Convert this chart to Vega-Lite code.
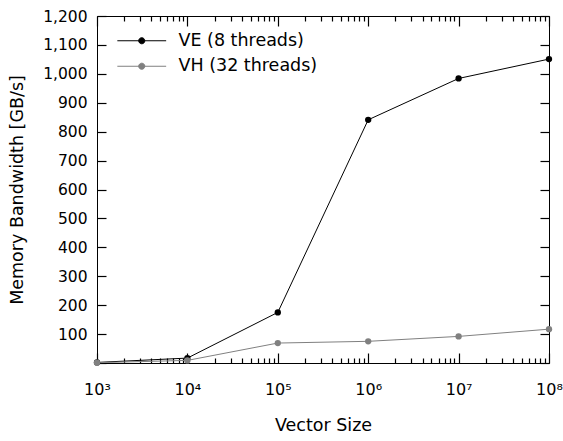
{
  "$schema": "https://vega.github.io/schema/vega-lite/v6.json",
  "width": 452,
  "height": 347,
  "autosize": "none",
  "padding": {"left": 97, "top": 16, "right": 14, "bottom": 78},
  "background": "white",
  "config": {
    "font": "DejaVu Sans",
    "view": {"stroke": "black", "strokeWidth": 1},
    "axis": {"grid": false, "domain": false, "tickWidth": 1.2, "zindex": 1, "labelColor": "black", "titleColor": "black", "titleFontWeight": "normal", "labelFont": "DejaVu Sans", "titleFont": "DejaVu Sans"}
  },
  "data": {
    "values": [
      {"size": 1000, "bw": 2, "series": "VE (8 threads)"},
      {"size": 10000, "bw": 17, "series": "VE (8 threads)"},
      {"size": 100000, "bw": 175, "series": "VE (8 threads)"},
      {"size": 1000000, "bw": 841, "series": "VE (8 threads)"},
      {"size": 10000000, "bw": 984, "series": "VE (8 threads)"},
      {"size": 100000000, "bw": 1051, "series": "VE (8 threads)"},
      {"size": 1000, "bw": 1, "series": "VH (32 threads)"},
      {"size": 10000, "bw": 9, "series": "VH (32 threads)"},
      {"size": 100000, "bw": 69, "series": "VH (32 threads)"},
      {"size": 1000000, "bw": 75, "series": "VH (32 threads)"},
      {"size": 10000000, "bw": 92, "series": "VH (32 threads)"},
      {"size": 100000000, "bw": 117, "series": "VH (32 threads)"}
    ]
  },
  "encoding": {
    "color": {
      "field": "series",
      "type": "nominal",
      "scale": {"domain": ["VE (8 threads)", "VH (32 threads)"], "range": ["#000000", "#808080"]},
      "legend": {
        "title": null,
        "orient": "none",
        "legendX": 36,
        "legendY": 16,
        "padding": 0,
        "symbolType": "M-4,0H4M-0.5,0A0.5,0.5,0,1,0,0.5,0A0.5,0.5,0,1,0,-0.5,0Z",
        "symbolSize": 149,
        "symbolStrokeWidth": 1,
        "labelOffset": 28,
        "labelFontSize": 17.5,
        "labelFont": "DejaVu Sans",
        "labelColor": "black",
        "rowPadding": 6.5,
        "labelLimit": 400,
        "encode": {"symbols": {"update": {"fill": {"scale": "color", "field": "value"}, "stroke": {"scale": "color", "field": "value"}, "opacity": {"value": 1}}}}
      }
    }
  },
  "layer": [
    {
      "mark": {"type": "line", "strokeWidth": 1},
      "encoding": {
        "x": {
          "field": "size", "type": "quantitative",
          "scale": {"type": "log", "domain": [1000, 100000000], "nice": false},
          "axis": {
            "orient": "bottom",
            "title": "Vector Size",
            "titleFontSize": 17.5,
            "titlePadding": 19,
            "labelFontSize": 16,
            "labelPadding": 18,
            "ticks": false,
            "values": [1000,10000,100000,1000000,10000000,100000000],
            "labelExpr": "'10' + ['⁰','¹','²','³','⁴','⁵','⁶','⁷','⁸'][round(log(datum.value)/LN10)]",
            "labelOverlap": false,
            "labelFlush": false
          }
        },
        "y": {
          "field": "bw", "type": "quantitative",
          "scale": {"domain": [0, 1200], "nice": false},
          "axis": {
            "orient": "left",
            "title": "Memory Bandwidth [GB/s]",
            "titleFontSize": 17.5,
            "titlePadding": 16,
            "labelFontSize": 15.5,
            "labelPadding": 10,
            "ticks": false,
            "values": [100,200,300,400,500,600,700,800,900,1000,1100,1200],
            "labelExpr": "format(datum.value, ',d')",
            "labelOverlap": false,
            "labelFlush": false
          }
        }
      }
    },
    {
      "mark": {"type": "point", "filled": true, "size": 40, "opacity": 1},
      "encoding": {
        "x": {
          "field": "size", "type": "quantitative",
          "scale": {"type": "log", "domain": [1000, 100000000], "nice": false},
          "axis": {"orient": "bottom", "title": null, "labels": false, "ticks": true, "tickColor": "#000000", "tickOpacity": 1, "offset": -10, "tickSize": 10, "values": [1000,10000,100000,1000000,10000000,100000000]}
        },
        "y": {
          "field": "bw", "type": "quantitative",
          "scale": {"domain": [0, 1200], "nice": false},
          "axis": {"orient": "left", "title": null, "labels": false, "ticks": true, "tickColor": "#000000", "tickOpacity": 1, "offset": -9, "tickSize": 9, "values": [0,100,200,300,400,500,600,700,800,900,1000,1100,1200]}
        }
      }
    },
    {
      "mark": {"type": "point", "filled": true, "size": 40, "opacity": 0},
      "encoding": {
        "x": {
          "field": "size", "type": "quantitative",
          "scale": {"type": "log", "domain": [1000, 100000000], "nice": false},
          "axis": {"orient": "bottom", "title": null, "labels": false, "ticks": true, "tickColor": "#000000", "tickOpacity": 1, "offset": -5, "tickSize": 5, "values": [2000,3000,4000,5000,6000,7000,8000,9000,20000,30000,40000,50000,60000,70000,80000,90000,200000,300000,400000,500000,600000,700000,800000,900000,2000000,3000000,4000000,5000000,6000000,7000000,8000000,9000000,20000000,30000000,40000000,50000000,60000000,70000000,80000000,90000000]}
        },
        "y": {
          "field": "bw", "type": "quantitative",
          "scale": {"domain": [0, 1200], "nice": false},
          "axis": {"orient": "right", "title": null, "labels": false, "ticks": true, "tickColor": "#000000", "tickOpacity": 1, "offset": -9, "tickSize": 9, "values": [0,100,200,300,400,500,600,700,800,900,1000,1100,1200]}
        }
      }
    },
    {
      "mark": {"type": "point", "filled": true, "size": 40, "opacity": 0},
      "encoding": {
        "x": {
          "field": "size", "type": "quantitative",
          "scale": {"type": "log", "domain": [1000, 100000000], "nice": false},
          "axis": {"orient": "top", "title": null, "labels": false, "ticks": true, "tickColor": "#000000", "tickOpacity": 1, "offset": -10, "tickSize": 10, "values": [1000,10000,100000,1000000,10000000,100000000]}
        },
        "y": {
          "field": "bw", "type": "quantitative",
          "scale": {"domain": [0, 1200], "nice": false},
          "axis": null
        }
      }
    },
    {
      "mark": {"type": "point", "filled": true, "size": 40, "opacity": 0},
      "encoding": {
        "x": {
          "field": "size", "type": "quantitative",
          "scale": {"type": "log", "domain": [1000, 100000000], "nice": false},
          "axis": {"orient": "top", "title": null, "labels": false, "ticks": true, "tickColor": "#000000", "tickOpacity": 1, "offset": -5, "tickSize": 5, "values": [2000,3000,4000,5000,6000,7000,8000,9000,20000,30000,40000,50000,60000,70000,80000,90000,200000,300000,400000,500000,600000,700000,800000,900000,2000000,3000000,4000000,5000000,6000000,7000000,8000000,9000000,20000000,30000000,40000000,50000000,60000000,70000000,80000000,90000000]}
        },
        "y": {
          "field": "bw", "type": "quantitative",
          "scale": {"domain": [0, 1200], "nice": false},
          "axis": null
        }
      }
    }
  ],
  "resolve": {"axis": {"x": "independent", "y": "independent"}}
}
